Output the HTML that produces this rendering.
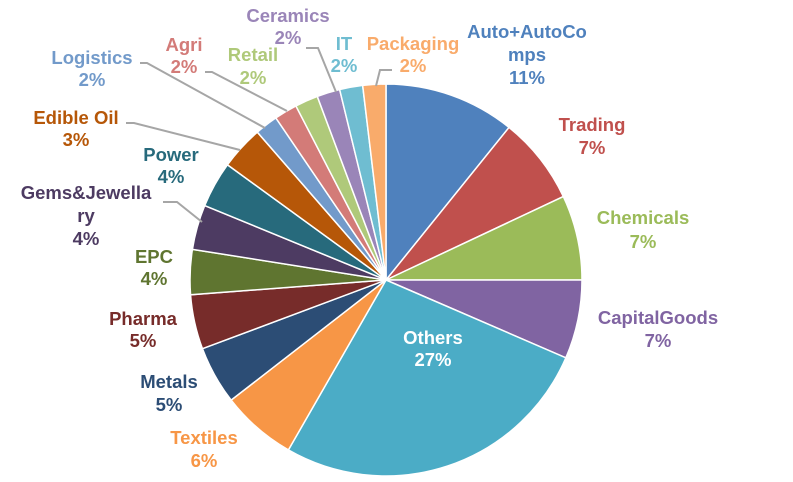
<!DOCTYPE html><html><head><meta charset="utf-8"><style>
body{margin:0;background:#fff}
svg text{font-family:"Liberation Sans",sans-serif;font-weight:bold;font-size:18.5px;text-anchor:middle}
</style></head><body>
<svg id="s" width="793" height="477" xmlns="http://www.w3.org/2000/svg">
<g id="p"></g>
<g stroke="#a6a6a6" stroke-width="2" fill="none">
<polyline points="140,63 147,63 265,128"/>
<polyline points="205,72 212,72 287,111"/>
<polyline points="126,123 134,123 240,150"/>
<polyline points="306,48 318,48 336,92"/>
<polyline points="392,70 380,70 376,86"/>
<polyline points="163,202 177,202 202,222"/>
</g>
<text x="527" y="38" fill="#4f81bd">Auto+AutoCo</text><text x="527" y="61" fill="#4f81bd">mps</text><text x="527" y="84" fill="#4f81bd">11%</text>
<text x="592" y="131" fill="#c0504d">Trading</text><text x="592" y="154" fill="#c0504d">7%</text>
<text x="643" y="224" fill="#9bbb59">Chemicals</text><text x="643" y="248" fill="#9bbb59">7%</text>
<text x="658" y="324" fill="#8064a2">CapitalGoods</text><text x="658" y="347" fill="#8064a2">7%</text>
<text x="433" y="344" fill="#fff">Others</text><text x="433" y="366" fill="#fff">27%</text>
<text x="204" y="444" fill="#f79646">Textiles</text><text x="204" y="467" fill="#f79646">6%</text>
<text x="169" y="388" fill="#2c4d75">Metals</text><text x="169" y="411" fill="#2c4d75">5%</text>
<text x="143" y="325" fill="#772c2a">Pharma</text><text x="143" y="347" fill="#772c2a">5%</text>
<text x="154" y="263" fill="#5f7530">EPC</text><text x="154" y="285" fill="#5f7530">4%</text>
<text x="86" y="199" fill="#4d3b62">Gems&amp;Jewella</text><text x="86" y="222" fill="#4d3b62">ry</text><text x="86" y="245" fill="#4d3b62">4%</text>
<text x="171" y="161" fill="#276a7c">Power</text><text x="171" y="183" fill="#276a7c">4%</text>
<text x="76" y="124" fill="#b65708">Edible Oil</text><text x="76" y="146" fill="#b65708">3%</text>
<text x="92" y="64" fill="#729aca">Logistics</text><text x="92" y="86" fill="#729aca">2%</text>
<text x="184" y="51" fill="#d37b78">Agri</text><text x="184" y="73" fill="#d37b78">2%</text>
<text x="253" y="61" fill="#afc97a">Retail</text><text x="253" y="84" fill="#afc97a">2%</text>
<text x="288" y="22" fill="#9a85b8">Ceramics</text><text x="288" y="44" fill="#9a85b8">2%</text>
<text x="344" y="50" fill="#6fbdd1">IT</text><text x="344" y="72" fill="#6fbdd1">2%</text>
<text x="413" y="50" fill="#f9ab6b">Packaging</text><text x="413" y="72" fill="#f9ab6b">2%</text>
</svg>
<script>
var b=[0,10.8,18,25,31.5,58.3,64.5,69.3,73.8,77.5,81.2,85,88.6,90.5,92.4,94.3,96.2,98.1,100];
var c=["#4f81bd","#c0504d","#9bbb59","#8064a2","#4bacc6","#f79646","#2c4d75","#772c2a","#5f7530","#4d3b62","#276a7c","#b65708","#729aca","#d37b78","#afc97a","#9a85b8","#6fbdd1","#f9ab6b"];
var cx=386,cy=280,r=196,h="";
function pt(p){var a=p/100*2*Math.PI;return [cx+r*Math.sin(a),cy-r*Math.cos(a)];}
for(var i=0;i<c.length;i++){var s=pt(b[i]),e=pt(b[i+1]),l=(b[i+1]-b[i])>50?1:0;
h+='<path d="M'+cx+','+cy+'L'+s[0].toFixed(2)+','+s[1].toFixed(2)+'A'+r+','+r+' 0 '+l+' 1 '+e[0].toFixed(2)+','+e[1].toFixed(2)+'Z" fill="'+c[i]+'" stroke="#fff" stroke-width="1.5"/>';}
document.getElementById("p").innerHTML=h;
</script>
</body></html>
